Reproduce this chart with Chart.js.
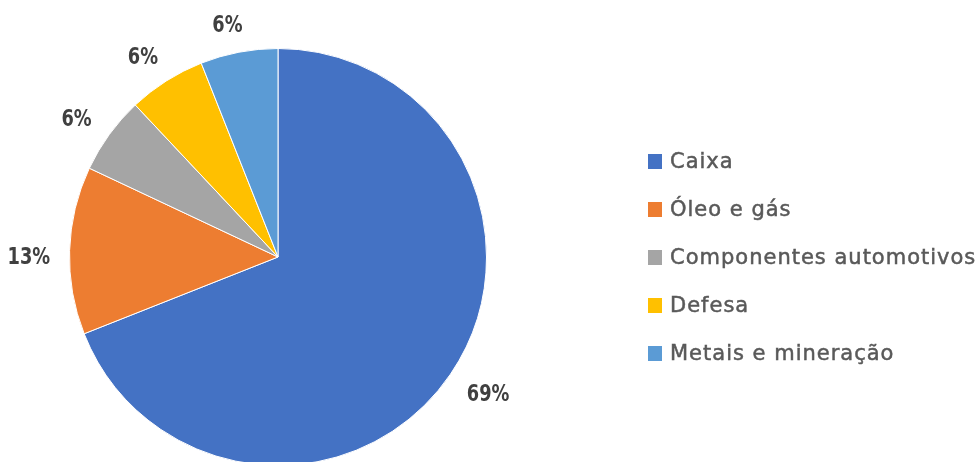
<!DOCTYPE html>
<html>
<head>
<meta charset="utf-8">
<script src="https://cdn.jsdelivr.net/npm/chart.js@4.4.1/dist/chart.umd.min.js"></script>
<style>
html,body{margin:0;padding:0;background:#fff;overflow:hidden;width:977px;height:462px;}
canvas{display:block;}
</style>
</head>
<body>
<canvas id="c" width="977" height="480" style="width:977px;height:480px"></canvas>
<script>
const categories = ["Caixa", "Óleo e gás", "Componentes automotivos", "Defesa", "Metais e mineração"];
const values = [69, 13, 6, 6, 6];
const pctLabels = ["69%", "13%", "6%", "6%", "6%"];
const colors = ["#4472C4", "#ED7D31", "#A5A5A5", "#FFC000", "#5B9BD5"];

const LABEL_FONT = 'bold 23px "DejaVu Sans Condensed", "DejaVu Sans", sans-serif';
const LABEL_SCALE_X = 0.86;
const LEGEND_FONT = '21px "DejaVu Sans", sans-serif';

const outsideLabels = {
  id: 'outsideLabels',
  afterDatasetsDraw(chart) {
    const ctx = chart.ctx;
    const meta = chart.getDatasetMeta(0);
    ctx.save();
    ctx.font = LABEL_FONT;
    ctx.fillStyle = '#404040';
    ctx.textAlign = 'center';
    ctx.textBaseline = 'middle';
    meta.data.forEach((arc, i) => {
      const p = arc.getProps(['x','y','startAngle','endAngle','outerRadius'], true);
      const mid = (p.startAngle + p.endAngle) / 2;
      const cx = Math.cos(mid), cy = Math.sin(mid);
      const w = ctx.measureText(pctLabels[i]).width * LABEL_SCALE_X;
      const h = 17;
      const d = p.outerRadius + 19 + Math.abs(cx) * w / 2 + Math.abs(cy) * h / 2;
      const shift = -6; // tangential shift (counter-clockwise)
      const tx = p.x + cx * d - Math.sin(mid) * shift;
      const ty = p.y + cy * d + Math.cos(mid) * shift;
      ctx.save();
      ctx.translate(tx, ty + 2.5);
      ctx.scale(LABEL_SCALE_X, 1);
      ctx.fillText(pctLabels[i], 0, 0);
      ctx.restore();
    });
    ctx.restore();
  }
};

const customLegend = {
  id: 'customLegend',
  afterDraw(chart) {
    const ctx = chart.ctx;
    const ds = chart.data.datasets[0];
    ctx.save();
    ctx.font = LEGEND_FONT;
    try { ctx.letterSpacing = '1px'; } catch (e) {}
    ctx.textBaseline = 'middle';
    ctx.textAlign = 'left';
    const x0 = 648, y0 = 161.5, step = 48;
    chart.data.labels.forEach((lab, i) => {
      const y = y0 + i * step;
      ctx.fillStyle = ds.backgroundColor[i];
      ctx.fillRect(x0, y - 7.5, 14, 15);
      ctx.fillStyle = '#595959';
      ctx.strokeStyle = '#595959';
      ctx.lineWidth = 0.5;
      ctx.fillText(lab, x0 + 22, y + 1);
      ctx.strokeText(lab, x0 + 22, y + 1);
    });
    ctx.restore();
  }
};

new Chart(document.getElementById('c'), {
  type: 'pie',
  data: {
    labels: categories,
    datasets: [{
      data: values,
      backgroundColor: colors,
      borderColor: '#ffffff',
      borderWidth: 1
    }]
  },
  options: {
    responsive: false,
    devicePixelRatio: 1,
    animation: false,
    layout: { padding: { top: 48, bottom: 14, left: 69, right: 490 } },
    plugins: {
      legend: { display: false },
      tooltip: { enabled: false }
    }
  },
  plugins: [outsideLabels, customLegend]
});
</script>
</body>
</html>
